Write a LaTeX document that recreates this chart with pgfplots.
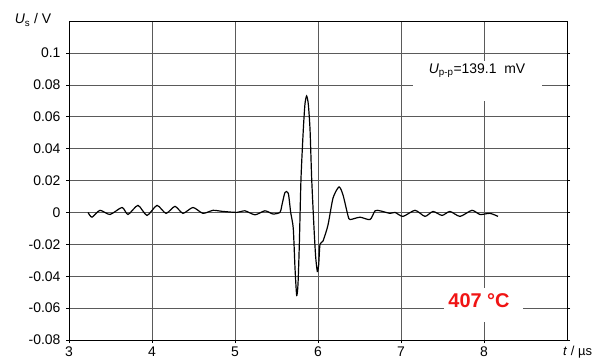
\documentclass[border=0pt]{standalone}
\usepackage{fontspec}
\setmainfont{Liberation Sans}
\usepackage{pgfplots}
\pgfplotsset{compat=1.18}
\definecolor{gridgray}{RGB}{90,90,90}
\definecolor{annred}{RGB}{240,20,20}
\begin{document}
\begin{tikzpicture}
\begin{axis}[
  scale only axis, width=498bp, height=319bp,
  xmin=3, xmax=9, ymin=-0.08, ymax=0.12,
  xtick={3,4,5,6,7,8}, xticklabels={3,4,5,6,7,8},
  ytick={-0.08,-0.06,-0.04,-0.02,0,0.02,0.04,0.06,0.08,0.1},
  yticklabels={-0.08,-0.06,-0.04,-0.02,0,0.02,0.04,0.06,0.08,0.1},
  grid=major,
  major grid style={gridgray, line width=0.6pt},
  axis line style={black, line width=1pt},
  tick align=outside, major tick length=3bp,
  tick style={black, line width=0.6pt},
  xtick pos=bottom, ytick pos=both,
  tick label style={font=\fontsize{14}{16}\selectfont},
  yticklabel style={xshift=-2bp},
  clip=false,
]
\addplot[black, line width=1.2pt, smooth, tension=0.4] coordinates {
(3.229,0) (3.277,-0.003) (3.373,0.0013) (3.494,-0.0013) (3.639,0.0031)
(3.711,-0.0013) (3.831,0.0044) (3.940,-0.0019) (4.060,0.0044) (4.169,-0.0006)
(4.277,0.0038) (4.373,-0.0006) (4.494,0.0031) (4.614,-0.0006) (4.735,0.0013)
(4.855,0.0006) (5.024,0) (5.120,0.001) (5.241,-0.0015) (5.361,0.001)
(5.458,-0.001) (5.542,0) (5.563,0.004) (5.602,0.0125) (5.642,0.012)
(5.671,0) (5.702,-0.01) (5.723,-0.035) (5.743,-0.052) (5.759,-0.045)
(5.775,-0.02) (5.795,0.021) (5.823,0.052) (5.843,0.068) (5.863,0.073)
(5.883,0.068) (5.904,0.052) (5.924,0.021) (5.952,-0.01) (5.972,-0.028)
(5.992,-0.037) (6.008,-0.033) (6.024,-0.02) (6.060,-0.018) (6.120,-0.008)
(6.181,0.009) (6.253,0.016) (6.301,0.011) (6.361,-0.002) (6.386,-0.0045)
(6.506,-0.003) (6.627,-0.0045) (6.687,0.001) (6.747,0.001) (6.867,-0.0006)
(6.928,0) (7.024,-0.0025) (7.169,0.0013) (7.289,-0.0025) (7.386,0.0006)
(7.494,-0.0019) (7.590,0.0006) (7.711,-0.0025) (7.855,0.0013) (7.952,-0.0013)
(8.072,-0.0006) (8.169,-0.0025)
};
\fill[white] (axis cs:7.145,0.07) rectangle (axis cs:8.699,0.095);
\node[font=\fontsize{14}{16}\selectfont] at (axis cs:7.916,0.0889) {\textit{U}\textsubscript{p-p}=139.1\ \ mV};
\fill[white] (axis cs:7.518,-0.069) rectangle (axis cs:8.47,-0.0475);
\node[font=\fontsize{20}{24}\selectfont\bfseries, text=annred] at (axis cs:7.94,-0.0556) {407 °C};
\node[font=\fontsize{14}{16}\selectfont] at ([xshift=-36bp,yshift=1bp]rel axis cs:0,1) {\textit{U}\textsubscript{s} / V};
\node[font=\fontsize{13}{15}\selectfont, anchor=west, inner sep=0pt] at ([xshift=-4bp,yshift=-12bp]rel axis cs:1,0) {\textit{t} / µs};
\end{axis}
\pgfresetboundingbox
\path ([xshift=-69bp,yshift=-18bp]current axis.south west) rectangle ([xshift=29bp,yshift=21bp]current axis.north east);
\end{tikzpicture}
\end{document}
